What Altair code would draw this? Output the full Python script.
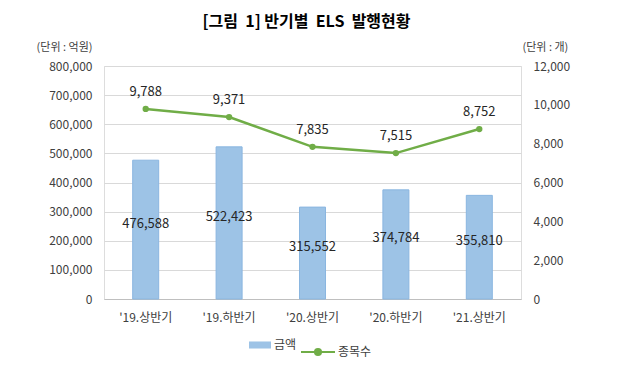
import altair as alt
import pandas as pd

periods = ["'19.상반기", "'19.하반기", "'20.상반기", "'20.하반기", "'21.상반기"]
amounts = [476588, 522423, 315552, 374784, 355810]
counts = [9788, 9371, 7835, 7515, 8752]

df = pd.DataFrame({"period": periods, "amount": amounts, "count": counts,
                   "s1": ["금액"] * 5, "s2": ["종목수"] * 5})
df["half"] = df["amount"] / 2

FONT = "Noto Sans CJK KR"
x = alt.X("period:N", sort=periods, title=None,
          scale=alt.Scale(paddingInner=0, paddingOuter=0),
          axis=alt.Axis(labelAngle=0, labelFontSize=12, labelColor="#404040",
                        labelPadding=13, ticks=False, domainColor="#BFBFBF",
                        labelFont=FONT))

left_axis = alt.Axis(values=list(range(0, 800001, 100000)), format=",.0f",
                     title="(단위 : 억원)", titleAngle=0, titleX=-12, titleY=-19,
                     titleAlign="right", titleBaseline="middle",
                     titleFontSize=11, titleFontWeight="normal", titleColor="#404040",
                     titleFont=FONT,
                     labelFontSize=12, labelColor="#404040", labelPadding=12,
                     labelFont=FONT, ticks=False, domain=False,
                     gridColor="#D9D9D9")
yl = alt.Y("amount:Q", scale=alt.Scale(domain=[0, 800000]), axis=left_axis)

bars = alt.Chart(df).mark_bar(size=26, fill="#9DC3E6", stroke="#8AB6E0", strokeWidth=1).encode(
    x=x, y=yl,
    color=alt.Color("s1:N", scale=alt.Scale(range=["#9DC3E6"]), title=None,
                    legend=alt.Legend(orient="none", legendX=145, legendY=268,
                                      symbolType="M-1,-0.32H1V0.32H-1Z", symbolSize=484,
                                      symbolStrokeWidth=0, labelFontSize=12, labelFont=FONT,
                                      labelColor="#404040", labelOffset=3))
)
bar_text = alt.Chart(df).mark_text(fontSize=13, color="#262626", dy=-6, font=FONT).encode(
    x=x, y=alt.Y("half:Q", scale=alt.Scale(domain=[0, 800000]), axis=left_axis),
    text=alt.Text("amount:Q", format=",")
)

right_axis = alt.Axis(orient="right", values=list(range(0, 12001, 2000)), format=",.0f",
                      title="(단위 : 개)", titleAngle=0, titleX=1, titleY=-19,
                      titleAlign="left", titleBaseline="middle",
                      titleFontSize=11, titleFontWeight="normal", titleColor="#404040",
                      titleFont=FONT,
                      labelFontSize=12, labelColor="#404040", labelPadding=12,
                      labelFont=FONT, ticks=False, domain=False, grid=False)
yr = alt.Y("count:Q", scale=alt.Scale(domain=[0, 12000]), axis=right_axis)

line = alt.Chart(df).mark_line(color="#70AD47", strokeWidth=2.5).encode(
    x=x, y=yr,
    stroke=alt.Stroke("s2:N", scale=alt.Scale(range=["#70AD47"]), title=None,
                      legend=alt.Legend(orient="none", legendX=196, legendY=268,
                                        symbolType="M-1,0H1M-0.18,0A0.18,0.18 0 1,0 0.18,0A0.18,0.18 0 1,0 -0.18,0Z",
                                        symbolSize=1156, symbolStrokeWidth=2,
                                        symbolFillColor="#70AD47",
                                        labelFontSize=12, labelFont=FONT,
                                        labelColor="#404040", labelOffset=2))
)
pts = alt.Chart(df).mark_point(filled=True, size=40, color="#70AD47", opacity=1).encode(x=x, y=yr)
line_text = alt.Chart(df).mark_text(fontSize=13, color="#262626", dy=-17, font=FONT).encode(
    x=x, y=yr, text=alt.Text("count:Q", format=",")
)

chart = alt.layer(
    alt.layer(bars, bar_text),
    alt.layer(line, pts, line_text)
).resolve_scale(y="independent", color="independent", stroke="independent").properties(
    width=417, height=233,
    title=alt.TitleParams("[그림\u00a0\u00a01]\u00a0반기별\u00a0\u00a0ELS\u00a0\u00a0발행현황",
                          anchor="middle", fontSize=16, dx=-6,
                          fontWeight="bold", font=FONT, color="#000000", offset=11),
    autosize=alt.AutoSizeParams(type="none"),
    padding={"left": 96, "top": 58, "right": 103, "bottom": 61},
).configure_view(stroke=None).configure(background="white")

chart.save("out.html", embed_options={"renderer": "svg", "actions": False})
